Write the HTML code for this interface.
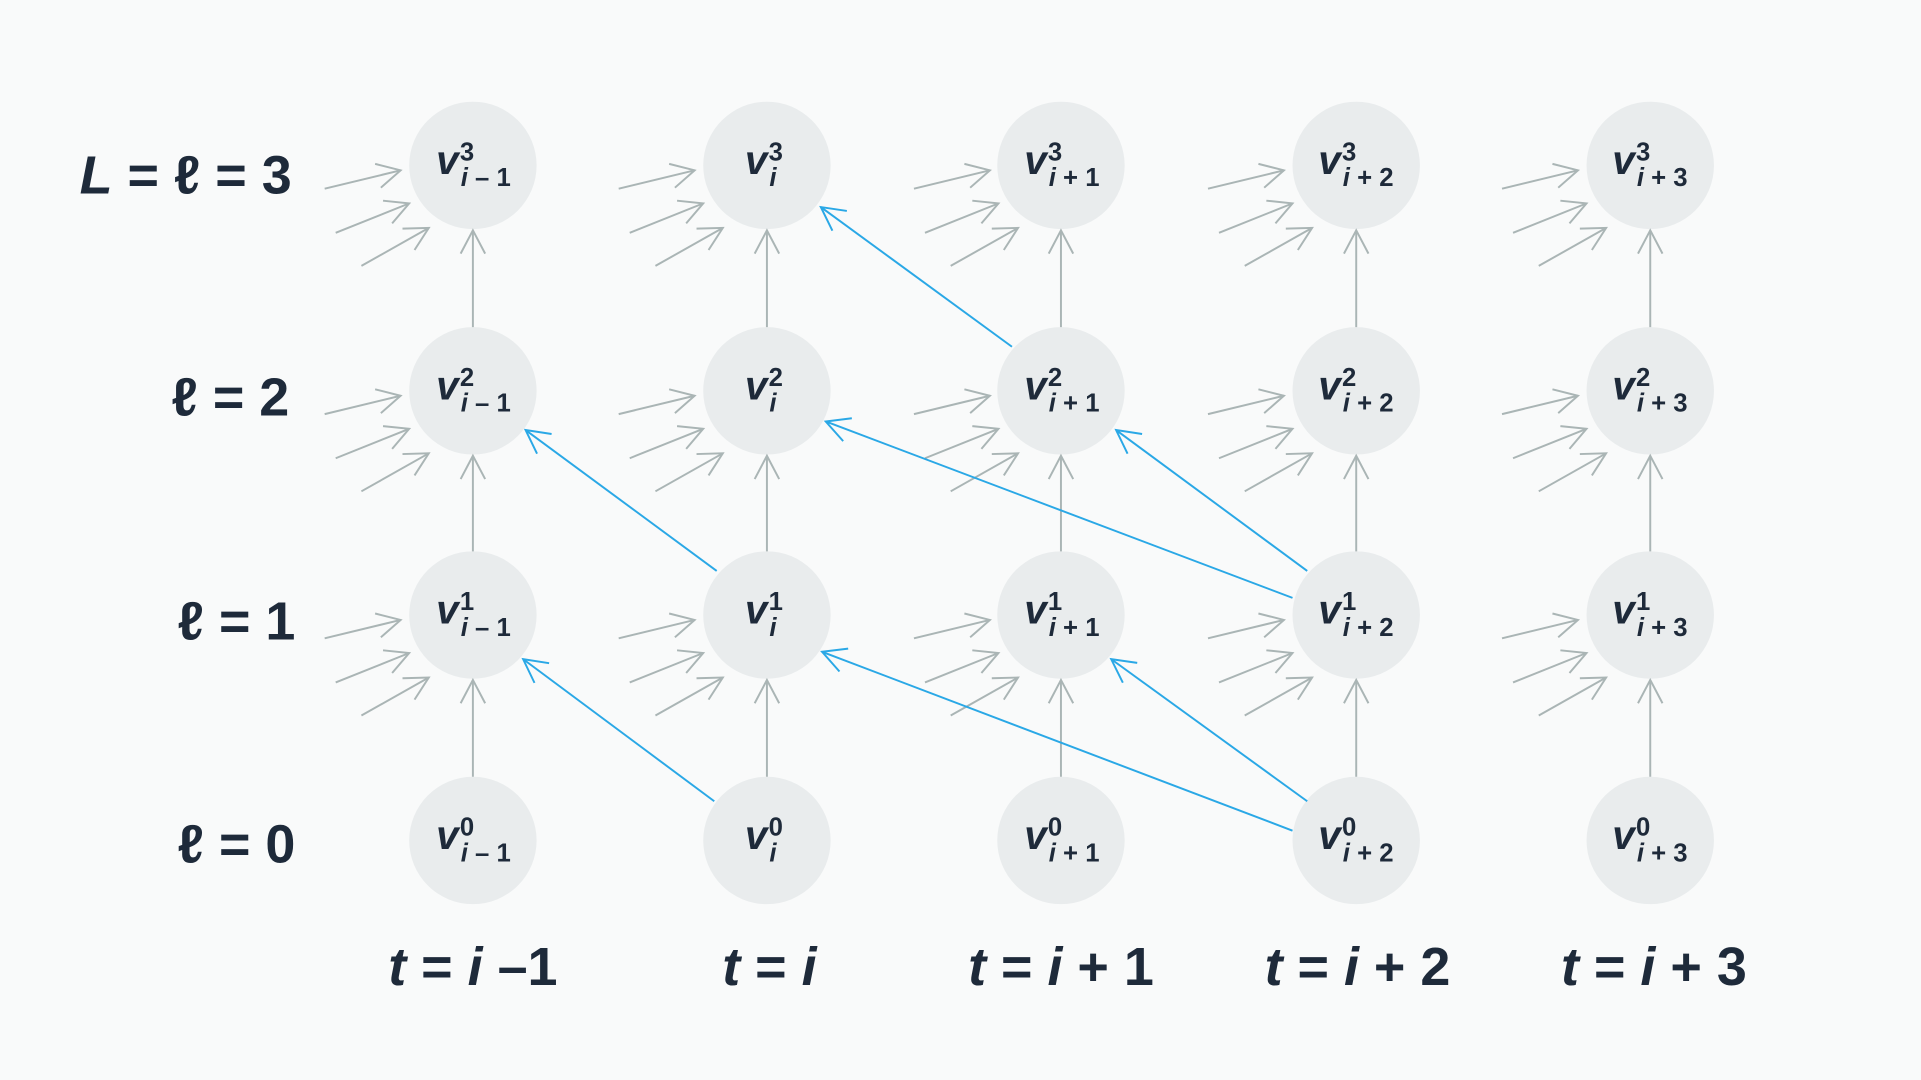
<!DOCTYPE html>
<html><head><style>html,body{margin:0;padding:0;background:#f9fafa;}svg{display:block}</style></head>
<body>
<svg width="1921" height="1080" viewBox="0 0 1568 881.5" xmlns="http://www.w3.org/2000/svg" font-family="Liberation Sans, DejaVu Sans, sans-serif">
<defs>
<marker id="g" viewBox="0 0 24 24" refX="22" refY="12" markerWidth="24" markerHeight="24" markerUnits="userSpaceOnUse" orient="auto"><path d="M3 2 L22 12 L3 22" fill="none" stroke="#aab5b5" stroke-width="1.6"/></marker>
<marker id="b" viewBox="0 0 24 24" refX="22" refY="12" markerWidth="24" markerHeight="24" markerUnits="userSpaceOnUse" orient="auto"><path d="M3 2 L22 12 L3 22" fill="none" stroke="#2aa8e6" stroke-width="1.6"/></marker>
</defs>
<rect width="1568" height="882" fill="#f9fafa"/>
<g fill="#e9eced">
<circle cx="386" cy="135" r="52"/><circle cx="626" cy="135" r="52"/><circle cx="866" cy="135" r="52"/><circle cx="1107" cy="135" r="52"/><circle cx="1347" cy="135" r="52"/>
<circle cx="386" cy="319" r="52"/><circle cx="626" cy="319" r="52"/><circle cx="866" cy="319" r="52"/><circle cx="1107" cy="319" r="52"/><circle cx="1347" cy="319" r="52"/>
<circle cx="386" cy="502" r="52"/><circle cx="626" cy="502" r="52"/><circle cx="866" cy="502" r="52"/><circle cx="1107" cy="502" r="52"/><circle cx="1347" cy="502" r="52"/>
<circle cx="386" cy="686" r="52"/><circle cx="626" cy="686" r="52"/><circle cx="866" cy="686" r="52"/><circle cx="1107" cy="686" r="52"/><circle cx="1347" cy="686" r="52"/>
</g>
<g stroke="#aab5b5" stroke-width="1.6" fill="none" marker-end="url(#g)">
<line x1="386" y1="634" x2="386" y2="555"/><line x1="386" y1="450" x2="386" y2="372"/><line x1="386" y1="267" x2="386" y2="188"/>
<line x1="626" y1="634" x2="626" y2="555"/><line x1="626" y1="450" x2="626" y2="372"/><line x1="626" y1="267" x2="626" y2="188"/>
<line x1="866" y1="634" x2="866" y2="555"/><line x1="866" y1="450" x2="866" y2="372"/><line x1="866" y1="267" x2="866" y2="188"/>
<line x1="1107" y1="634" x2="1107" y2="555"/><line x1="1107" y1="450" x2="1107" y2="372"/><line x1="1107" y1="267" x2="1107" y2="188"/>
<line x1="1347" y1="634" x2="1347" y2="555"/><line x1="1347" y1="450" x2="1347" y2="372"/><line x1="1347" y1="267" x2="1347" y2="188"/>
</g>
<g stroke="#aab5b5" stroke-width="1.6" fill="none" marker-end="url(#g)">
<g id="f"><line x1="265" y1="154" x2="327" y2="139"/><line x1="274" y1="190" x2="334" y2="166"/><line x1="295" y1="217" x2="350" y2="186"/></g>
<use href="#f" x="240"/><use href="#f" x="481"/><use href="#f" x="721"/><use href="#f" x="961"/>
<use href="#f" y="184"/><use href="#f" x="240" y="184"/><use href="#f" x="481" y="184"/><use href="#f" x="721" y="184"/><use href="#f" x="961" y="184"/>
<use href="#f" y="367"/><use href="#f" x="240" y="367"/><use href="#f" x="481" y="367"/><use href="#f" x="721" y="367"/><use href="#f" x="961" y="367"/>
</g>
<g stroke="#2aa8e6" stroke-width="1.6" fill="none" marker-end="url(#b)">
<line x1="585" y1="466" x2="429" y2="351"/>
<line x1="583" y1="654" x2="427" y2="538"/>
<line x1="826" y1="283" x2="670" y2="169"/>
<line x1="1067" y1="466" x2="911" y2="351"/>
<line x1="1055" y1="488" x2="674" y2="344"/>
<line x1="1067" y1="654" x2="907" y2="538"/>
<line x1="1055" y1="678" x2="671" y2="532"/>
</g>
<g fill="#1e2a3a" font-weight="bold">
<g font-size="44">
<text x="65" y="158"><tspan font-style="italic">L</tspan> = ℓ = 3</text>
<text x="140" y="339">ℓ = 2</text>
<text x="145" y="522">ℓ = 1</text>
<text x="145" y="704">ℓ = 0</text>
<g text-anchor="middle">
<text x="386" y="804"><tspan font-style="italic">t</tspan> = <tspan font-style="italic">i</tspan> –1</text>
<text x="628" y="804"><tspan font-style="italic">t</tspan> = <tspan font-style="italic">i</tspan></text>
<text x="866" y="804"><tspan font-style="italic">t</tspan> = <tspan font-style="italic">i</tspan> + 1</text>
<text x="1108" y="804"><tspan font-style="italic">t</tspan> = <tspan font-style="italic">i</tspan> + 2</text>
<text x="1350" y="804"><tspan font-style="italic">t</tspan> = <tspan font-style="italic">i</tspan> + 3</text>
</g>
</g>
<g font-size="33" font-style="italic">
<g>
<text x="356" y="142">v<tspan font-size="21" dx="1" dy="-11" font-style="normal">3</tspan><tspan font-size="21" dx="-11" dy="21">i</tspan><tspan font-size="21" font-style="normal"> – 1</tspan></text>
<text x="608" y="142">v<tspan font-size="21" dx="1" dy="-11" font-style="normal">3</tspan><tspan font-size="21" dx="-11" dy="21">i</tspan></text>
<text x="836" y="142">v<tspan font-size="21" dx="1" dy="-11" font-style="normal">3</tspan><tspan font-size="21" dx="-11" dy="21">i</tspan><tspan font-size="21" font-style="normal"> + 1</tspan></text>
<text x="1076" y="142">v<tspan font-size="21" dx="1" dy="-11" font-style="normal">3</tspan><tspan font-size="21" dx="-11" dy="21">i</tspan><tspan font-size="21" font-style="normal"> + 2</tspan></text>
<text x="1316" y="142">v<tspan font-size="21" dx="1" dy="-11" font-style="normal">3</tspan><tspan font-size="21" dx="-11" dy="21">i</tspan><tspan font-size="21" font-style="normal"> + 3</tspan></text>
</g>
<g transform="translate(0,184)">
<text x="356" y="142">v<tspan font-size="21" dx="1" dy="-11" font-style="normal">2</tspan><tspan font-size="21" dx="-11" dy="21">i</tspan><tspan font-size="21" font-style="normal"> – 1</tspan></text>
<text x="608" y="142">v<tspan font-size="21" dx="1" dy="-11" font-style="normal">2</tspan><tspan font-size="21" dx="-11" dy="21">i</tspan></text>
<text x="836" y="142">v<tspan font-size="21" dx="1" dy="-11" font-style="normal">2</tspan><tspan font-size="21" dx="-11" dy="21">i</tspan><tspan font-size="21" font-style="normal"> + 1</tspan></text>
<text x="1076" y="142">v<tspan font-size="21" dx="1" dy="-11" font-style="normal">2</tspan><tspan font-size="21" dx="-11" dy="21">i</tspan><tspan font-size="21" font-style="normal"> + 2</tspan></text>
<text x="1316" y="142">v<tspan font-size="21" dx="1" dy="-11" font-style="normal">2</tspan><tspan font-size="21" dx="-11" dy="21">i</tspan><tspan font-size="21" font-style="normal"> + 3</tspan></text>
</g>
<g transform="translate(0,367)">
<text x="356" y="142">v<tspan font-size="21" dx="1" dy="-11" font-style="normal">1</tspan><tspan font-size="21" dx="-11" dy="21">i</tspan><tspan font-size="21" font-style="normal"> – 1</tspan></text>
<text x="608" y="142">v<tspan font-size="21" dx="1" dy="-11" font-style="normal">1</tspan><tspan font-size="21" dx="-11" dy="21">i</tspan></text>
<text x="836" y="142">v<tspan font-size="21" dx="1" dy="-11" font-style="normal">1</tspan><tspan font-size="21" dx="-11" dy="21">i</tspan><tspan font-size="21" font-style="normal"> + 1</tspan></text>
<text x="1076" y="142">v<tspan font-size="21" dx="1" dy="-11" font-style="normal">1</tspan><tspan font-size="21" dx="-11" dy="21">i</tspan><tspan font-size="21" font-style="normal"> + 2</tspan></text>
<text x="1316" y="142">v<tspan font-size="21" dx="1" dy="-11" font-style="normal">1</tspan><tspan font-size="21" dx="-11" dy="21">i</tspan><tspan font-size="21" font-style="normal"> + 3</tspan></text>
</g>
<g transform="translate(0,551)">
<text x="356" y="142">v<tspan font-size="21" dx="1" dy="-11" font-style="normal">0</tspan><tspan font-size="21" dx="-11" dy="21">i</tspan><tspan font-size="21" font-style="normal"> – 1</tspan></text>
<text x="608" y="142">v<tspan font-size="21" dx="1" dy="-11" font-style="normal">0</tspan><tspan font-size="21" dx="-11" dy="21">i</tspan></text>
<text x="836" y="142">v<tspan font-size="21" dx="1" dy="-11" font-style="normal">0</tspan><tspan font-size="21" dx="-11" dy="21">i</tspan><tspan font-size="21" font-style="normal"> + 1</tspan></text>
<text x="1076" y="142">v<tspan font-size="21" dx="1" dy="-11" font-style="normal">0</tspan><tspan font-size="21" dx="-11" dy="21">i</tspan><tspan font-size="21" font-style="normal"> + 2</tspan></text>
<text x="1316" y="142">v<tspan font-size="21" dx="1" dy="-11" font-style="normal">0</tspan><tspan font-size="21" dx="-11" dy="21">i</tspan><tspan font-size="21" font-style="normal"> + 3</tspan></text>
</g>
</g>
</g>
</svg>
</body></html>
